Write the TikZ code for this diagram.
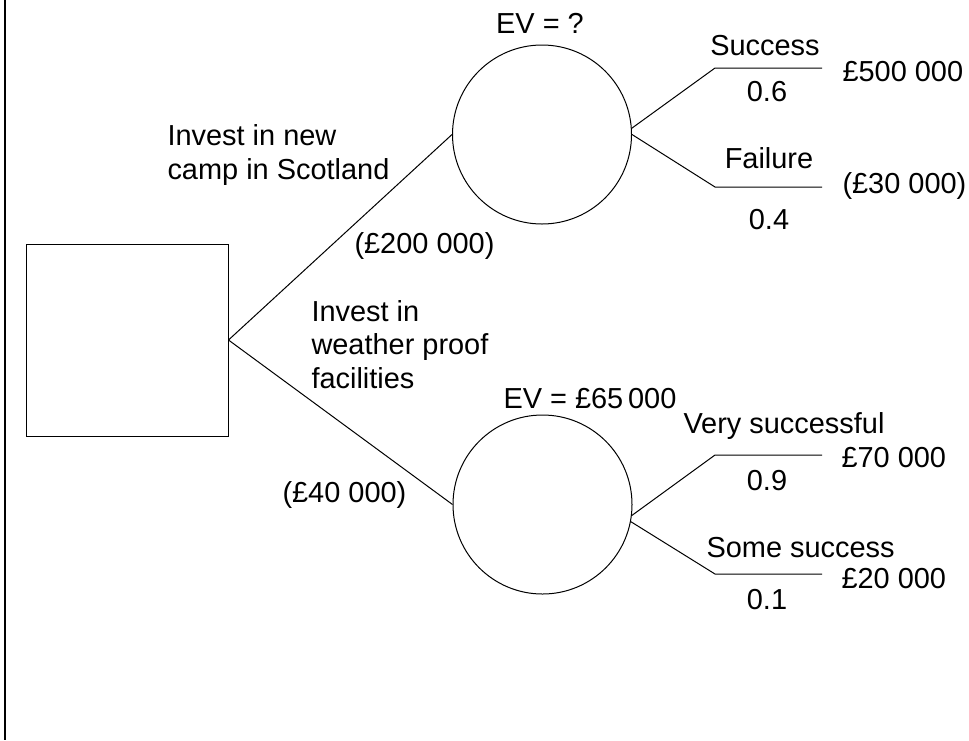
\documentclass[tikz,border=0pt]{standalone}
\usepackage{fontspec}
\setmainfont{Liberation Sans}

\tikzset{every picture/.style={line width=0.75pt}}
\tikzset{
  lbl/.style={inner sep=0.75pt, font=\fontsize{21.7}{25}\selectfont},
  dbox/.style={draw, minimum width=151.5pt, minimum height=144pt, inner sep=0pt},
  cnode/.style={draw, circle, minimum size=134.25pt, inner sep=0pt}
}

\begin{document}
\begin{tikzpicture}[x=0.75pt,y=0.75pt,yscale=-1,xscale=1]
        \useasboundingbox (0,0) rectangle (969,740);

        %Straight Lines [page edge]
        \draw [line width=1.5]  (5,0) -- (5,740) ;

        %Shapes: decision and chance nodes
        \node [dbox] (dec) at (127,340) {};
        \node [cnode] (chA) at (542,134.5) {};
        \node [cnode] (chB) at (542.5,504.5) {};

        %Branch end points
        \coordinate (sucK) at (715,68);  \coordinate (sucE) at (822,68);
        \coordinate (faiK) at (715,187); \coordinate (faiE) at (822,187);
        \coordinate (vsK) at (715,455);  \coordinate (vsE) at (822,455);
        \coordinate (ssK) at (715,574);  \coordinate (ssE) at (822,574);

        %Straight Lines
        \draw    (dec.east) -- (chA.west) ;
        \draw    (dec.east) -- (chB.west) ;
        \draw    (chA.4) -- (sucK) -- (sucE) ;
        \draw    (chA.east) -- (faiK) -- (faiE) ;
        \draw    (chB.-7) -- (vsK) -- (vsE) ;
        \draw    (chB.-11) -- (ssK) -- (ssE) ;

        % Text Node
        \draw (540,33) node [anchor=base][lbl] (evA) {EV = ?};
        % Text Node
        \draw (502,408) node [anchor=base west][lbl] (evB) {EV = £65\,000};
        % Text Node
        \draw (166,179) node [anchor=base west][lbl, align=left] (optA) {Invest in new\\camp in Scotland};
        % Text Node
        \draw (353,253) node [anchor=base west][lbl] (costA) {(£200 000)};
        % Text Node
        \draw (310,388) node [anchor=base west][lbl, align=left] (optB) {Invest in\\weather proof\\facilities};
        % Text Node
        \draw (281,502) node [anchor=base west][lbl] (costB) {(£40 000)};
        % Text Node
        \draw (765,55) node [anchor=base][lbl] (sucT) {Success};
        % Text Node
        \draw (767,101) node [anchor=base][lbl] (sucP) {0.6};
        % Text Node
        \draw (841,81) node [anchor=base west][lbl] (sucV) {£500 000};
        % Text Node
        \draw (769,168) node [anchor=base][lbl] (faiT) {Failure};
        % Text Node
        \draw (769,229) node [anchor=base][lbl] (faiP) {0.4};
        % Text Node
        \draw (841,193) node [anchor=base west][lbl] (faiV) {(£30 000)};
        % Text Node
        \draw (682,433) node [anchor=base west][lbl] (vsT) {Very successful};
        % Text Node
        \draw (767,490) node [anchor=base][lbl] (vsP) {0.9};
        % Text Node
        \draw (840,467) node [anchor=base west][lbl] (vsV) {£70 000};
        % Text Node
        \draw (705,557) node [anchor=base west][lbl] (ssT) {Some success};
        % Text Node
        \draw (767,609) node [anchor=base][lbl] (ssP) {0.1};
        % Text Node
        \draw (840,588) node [anchor=base west][lbl] (ssV) {£20 000};

\end{tikzpicture}
\end{document}
